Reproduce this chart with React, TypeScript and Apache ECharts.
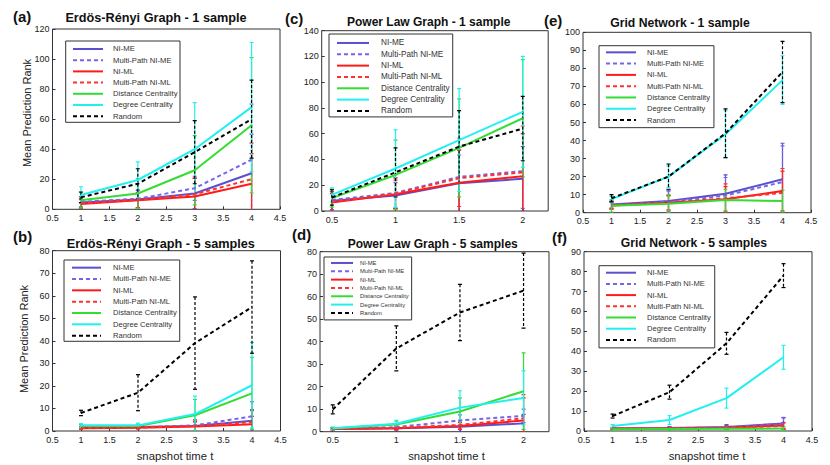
import React, { useEffect, useRef } from 'react';
import * as echarts from 'echarts';

const FONT = '"Liberation Sans", Arial, Helvetica, sans-serif';

// ---- data ----
const METHODS = ['NI-ME', 'Multi-Path NI-ME', 'NI-ML', 'Multi-Path NI-ML', 'Distance Centrality', 'Degree Centrality', 'Random'];
const COLORS = ['#5a4fcf', '#7466ea', '#ff1a1a', '#ff3030', '#33dd33', '#22f0f0', '#000000'];
const DASHED = [false, true, false, true, false, false, true];

const xSnap = [1, 2, 3, 4];
const xPow = [0.5, 1, 1.5, 2];
const xTicksPow = [0.5, 1, 1.5, 2];

// (a) Erdos-Renyi, 1 sample
const meanA = [
  [4.5, 6.5, 10.5, 24],
  [5, 7, 14, 33],
  [3.5, 6, 8.5, 17],
  [4, 6.2, 10, 20],
  [6, 10.5, 26, 56],
  [9.5, 19.5, 40, 68],
  [8, 17, 38, 60],
];
const errA = [
  [3, 6, 10, 26],
  [3.5, 6, 8, 37],
  [3, 5, 12, 20],
  [3, 5, 11, 24],
  [5, 10, 23, 45],
  [5.5, 12, 31, 43],
  [3.5, 10, 21, 26],
];

// (b) Erdos-Renyi, 5 samples
const meanB = [
  [1.5, 1.8, 2.2, 4.5],
  [1.5, 1.6, 2.5, 6.5],
  [1.2, 1.4, 2.0, 3.0],
  [1.3, 1.5, 2.2, 4],
  [2.2, 2.2, 7, 16.7],
  [2.5, 2.5, 7.5, 20.3],
  [8, 17, 39, 55],
];
const errB = [
  [0.5, 0.5, 2, 5],
  [0.6, 0.6, 2.5, 6.5],
  [0.5, 0.5, 2, 3.5],
  [0.5, 0.5, 2.7, 5],
  [0.7, 0.8, 7, 16],
  [0.8, 1, 8, 19],
  [1.2, 8, 20.5, 20.5],
];

// (c) Power law, 1 sample
const meanC = [
  [8, 12, 21.5, 25],
  [8.5, 14, 26.5, 31],
  [6.5, 13, 22, 27],
  [7, 13.5, 25.5, 30],
  [10, 28, 49, 72],
  [12.5, 33, 55, 77],
  [10.5, 30, 50, 64],
];
const errC = [
  [7, 10, 22, 25],
  [8, 12, 30, 29],
  [7, 11, 25, 33],
  [8, 12, 22, 36],
  [7, 27, 38, 45.5],
  [5.5, 30, 40, 43],
  [6, 19, 28, 25],
];

// (d) Power law, 5 samples
const meanD = [
  [1.2, 1.5, 2.2, 3.7],
  [1.3, 2, 5, 7],
  [1.2, 1.5, 2.5, 5],
  [1.3, 1.7, 3, 6],
  [1.4, 3.2, 9, 18],
  [1.5, 3.5, 10.7, 15],
  [9.9, 37, 53, 62.7],
];
const errD = [
  [0.4, 0.8, 2, 4],
  [0.5, 1, 2.5, 3],
  [0.4, 0.6, 1.5, 10],
  [0.5, 0.8, 1.8, 10.5],
  [0.5, 1.5, 6, 17],
  [0.6, 1.5, 7.5, 12],
  [2, 10, 12.5, 16.7],
];

// (e) Grid network, 1 sample
const meanE = [
  [4.5, 6.5, 10.5, 18.5],
  [4.2, 6, 9.5, 17],
  [4, 5.5, 7.5, 12],
  [4, 5.5, 8, 11],
  [3.8, 5, 7, 6.5],
  [7.5, 20, 43.5, 73.5],
  [8, 20, 44, 78],
];
const errE = [
  [2, 6, 10.5, 20],
  [2, 6, 10, 20],
  [2, 4, 7, 11],
  [2, 4, 8, 13.5],
  [3.5, 5, 6, 6],
  [1.5, 6, 13, 13.5],
  [2, 7, 13.5, 17],
];

// (f) Grid network, 5 samples
const meanF = [
  [1.3, 1.5, 2, 3.8],
  [1.2, 1.4, 1.8, 3.5],
  [1.2, 1.3, 1.6, 2.8],
  [1.2, 1.3, 1.6, 2.5],
  [0.9, 1, 1.1, 1.2],
  [2.5, 5.5, 16.5, 37],
  [7.5, 19.5, 44, 78],
];
const errF = [
  [0.5, 0.7, 1.2, 3],
  [0.5, 0.7, 1, 3],
  [0.4, 0.5, 0.8, 1.5],
  [0.4, 0.5, 0.8, 1.5],
  [0.5, 0.6, 0.8, 1],
  [0.7, 2.2, 5, 6],
  [1, 3.5, 5.5, 6],
];

const TITLES = [
  'Erdös-Rényi Graph - 1 sample',
  'Erdös-Rényi Graph - 5 samples',
  'Power Law Graph - 1 sample',
  'Power Law Graph - 5 samples',
  'Grid Network - 1 sample',
  'Grid Network - 5 samples',
];
const LABELS = ['(a)', '(b)', '(c)', '(d)', '(e)', '(f)'];
const Y_NAME = 'Mean Prediction Rank';
const X_NAME = 'snapshot time t';

// ---- layout ----
const PANELS = [
  { xs: xSnap, mean: meanA, err: errA, grid: { left: 52.5, top: 29, width: 227.5, height: 180.3 }, xMin: 0.5, xMax: 4.5, yMax: 120, yInt: 20,
    title: [156, 18.3, 12.7], label: [13, 16.5], legend: [65.7, 41, 6.3, 2.5, 2.4, 0.5, 30, 10, 11.2, 7.7], yName: [27.3, 113], xName: null },
  { xs: xSnap, mean: meanB, err: errB, grid: { left: 52.5, top: 250.7, width: 228, height: 180.3 }, xMin: 0.5, xMax: 4.5, yMax: 80, yInt: 10,
    title: [160.8, 244, 12.7], label: [13, 236], legend: [64, 260, 7, 3, 2, 0, 29, 12, 11.33, 7.6], yName: [23.7, 339], xName: [19, 17] },
  { xs: xPow, mean: meanC, err: errC, grid: { left: 321.7, top: 30.7, width: 226.5, height: 180.3 }, xMin: 0.42, xMax: 2.2, yMax: 140, yInt: 20,
    title: [428.7, 22, 12], label: [285, 18.5], legend: [329, 34, 7, 3, 3.3, 0.3, 32, 12, 11.33, 8.2], yName: null, xName: null },
  { xs: xPow, mean: meanD, err: errD, grid: { left: 320, top: 251.7, width: 229, height: 180 }, xMin: 0.4, xMax: 2.2, yMax: 80, yInt: 10,
    title: [432.7, 244.3, 12], label: [292, 234], legend: [324, 257, 6, 3, 1.8, 2.8, 22, 7, 8.33, 5.8], yName: null, xName: [19, 24] },
  { xs: xSnap, mean: meanE, err: errE, grid: { left: 583, top: 32.3, width: 228, height: 180.4 }, xMin: 0.5, xMax: 4.5, yMax: 100, yInt: 10,
    title: [680, 23, 12.2], label: [544, 20], legend: [599, 45.7, 6, 4, 1, 2, 30, 11, 11.28, 7.5], yName: null, xName: null },
  { xs: xSnap, mean: meanF, err: errF, grid: { left: 584, top: 251.7, width: 228, height: 179.3 }, xMin: 0.5, xMax: 4.5, yMax: 90, yInt: 10,
    title: [694, 242.7, 12.2], label: [552, 237], legend: [599, 265.7, 6, 4, 1.4, 2.4, 30, 11, 11.2, 7.6], yName: null, xName: [19, 18] },
];

function buildOption() {
  const grid: any[] = [];
  const xAxis: any[] = [];
  const yAxis: any[] = [];
  const series: any[] = [];
  const legend: any[] = [];
  const graphic: any[] = [];

  PANELS.forEach((p, pi) => {
    grid.push({ ...p.grid, show: true, borderColor: '#333', borderWidth: 1, backgroundColor: 'transparent', containLabel: false });

    const isPow = p.xs === xPow;
    const xa: any = {
      type: 'value', gridIndex: pi, min: p.xMin, max: p.xMax,
      axisLine: { show: false },
      axisTick: { show: true, inside: true, length: 3, lineStyle: { color: '#333' } },
      axisLabel: { fontSize: 9, color: '#222', margin: 4, fontFamily: FONT },
      splitLine: { show: false },
    };
    if (isPow) {
      xa.axisLabel.customValues = xTicksPow;
      xa.axisTick.customValues = xTicksPow;
    } else {
      xa.interval = 0.5;
    }
    if (p.xName) {
      xa.name = X_NAME;
      xa.nameLocation = 'middle';
      xa.nameGap = p.xName[0];
      xa.nameTextStyle = { fontSize: 11.3, color: '#222', fontFamily: FONT, padding: [0, 0, 0, p.xName[1]] };
    }
    xAxis.push(xa);

    yAxis.push({
      type: 'value', gridIndex: pi, min: 0, max: p.yMax, interval: p.yInt,
      axisLine: { show: false },
      axisTick: { show: true, inside: true, length: 3, lineStyle: { color: '#333' } },
      axisLabel: { fontSize: 9, color: '#222', margin: 3, fontFamily: FONT },
      splitLine: { show: false },
    });

    if (p.yName) {
      graphic.push({
        type: 'text', x: p.yName[0], y: p.yName[1], rotation: Math.PI / 2,
        style: { text: Y_NAME, fontSize: 11, fontFamily: FONT, fill: '#222', align: 'center', verticalAlign: 'middle' },
      });
    }

    METHODS.forEach((name, m) => {
      series.push({
        name, type: 'line', xAxisIndex: pi, yAxisIndex: pi,
        data: p.xs.map((x, i) => [x, p.mean[m][i]]),
        symbol: 'none', showSymbol: false,
        lineStyle: { color: COLORS[m], width: 2, type: DASHED[m] ? [4, 3] : 'solid' },
        itemStyle: { color: COLORS[m] },
        emphasis: { disabled: true },
      });
    });

    const ebData: any[] = [];
    METHODS.forEach((_, m) => {
      p.xs.forEach((x, i) => ebData.push([x, p.mean[m][i], p.err[m][i], m]));
    });
    series.push({
      name: 'error bars ' + LABELS[pi], type: 'custom', xAxisIndex: pi, yAxisIndex: pi,
      clip: true,
      encode: { x: 0, y: 1 },
      data: ebData,
      renderItem: (params: any, api: any) => {
        const x = api.value(0), mu = api.value(1), e = api.value(2), k = api.value(3);
        const t = api.coord([x, mu + e]);
        const b = api.coord([x, mu - e]);
        const c = COLORS[k];
        const hw = 2;
        const vStyle: any = { stroke: c, lineWidth: 1.2 };
        if (DASHED[k]) vStyle.lineDash = [3, 2];
        return {
          type: 'group',
          children: [
            { type: 'line', shape: { x1: t[0], y1: t[1], x2: b[0], y2: b[1] }, style: vStyle },
            { type: 'line', shape: { x1: t[0] - hw, y1: t[1], x2: t[0] + hw, y2: t[1] }, style: { stroke: c, lineWidth: 1.2 } },
            { type: 'line', shape: { x1: b[0] - hw, y1: b[1], x2: b[0] + hw, y2: b[1] }, style: { stroke: c, lineWidth: 1.2 } },
          ],
        };
      },
    });

    const [lx, ly, pl, pr, pt, pb, iw, gap, rh, fs] = p.legend;
    legend.push({
      data: METHODS, orient: 'vertical', left: lx, top: ly,
      padding: [pt, pr, pb, pl], itemWidth: iw, itemHeight: rh, itemGap: 0,
      backgroundColor: '#fff', borderColor: '#333', borderWidth: 1, borderRadius: 0,
      selectedMode: false,
      itemStyle: { opacity: 0 },
      textStyle: { fontSize: fs, color: '#333', fontFamily: FONT, lineHeight: rh, padding: [0, 0, 0, gap - 5] },
    });

    graphic.push({
      type: 'text', x: p.title[0], y: p.title[1],
      style: { text: TITLES[pi], fontSize: p.title[2], fontWeight: 'bold', fontFamily: FONT, fill: '#111', align: 'center', verticalAlign: 'middle' },
    });
    graphic.push({
      type: 'text', x: p.label[0], y: p.label[1],
      style: { text: LABELS[pi], fontSize: 15, fontWeight: 'bold', fontFamily: FONT, fill: '#111', align: 'left', verticalAlign: 'middle' },
    });
  });

  return {
    animation: false,
    backgroundColor: '#fff',
    textStyle: { fontFamily: FONT },
    grid, xAxis, yAxis, series, legend, graphic,
  };
}

export default function App() {
  const ref = useRef<HTMLDivElement>(null);
  useEffect(() => {
    if (!ref.current) return;
    const chart = echarts.init(ref.current, null, { renderer: 'svg' });
    chart.setOption(buildOption());
    return () => chart.dispose();
  }, []);
  return <div ref={ref} style={{ position: 'fixed', left: 0, top: 0, width: 830, height: 465 }} />;
}
